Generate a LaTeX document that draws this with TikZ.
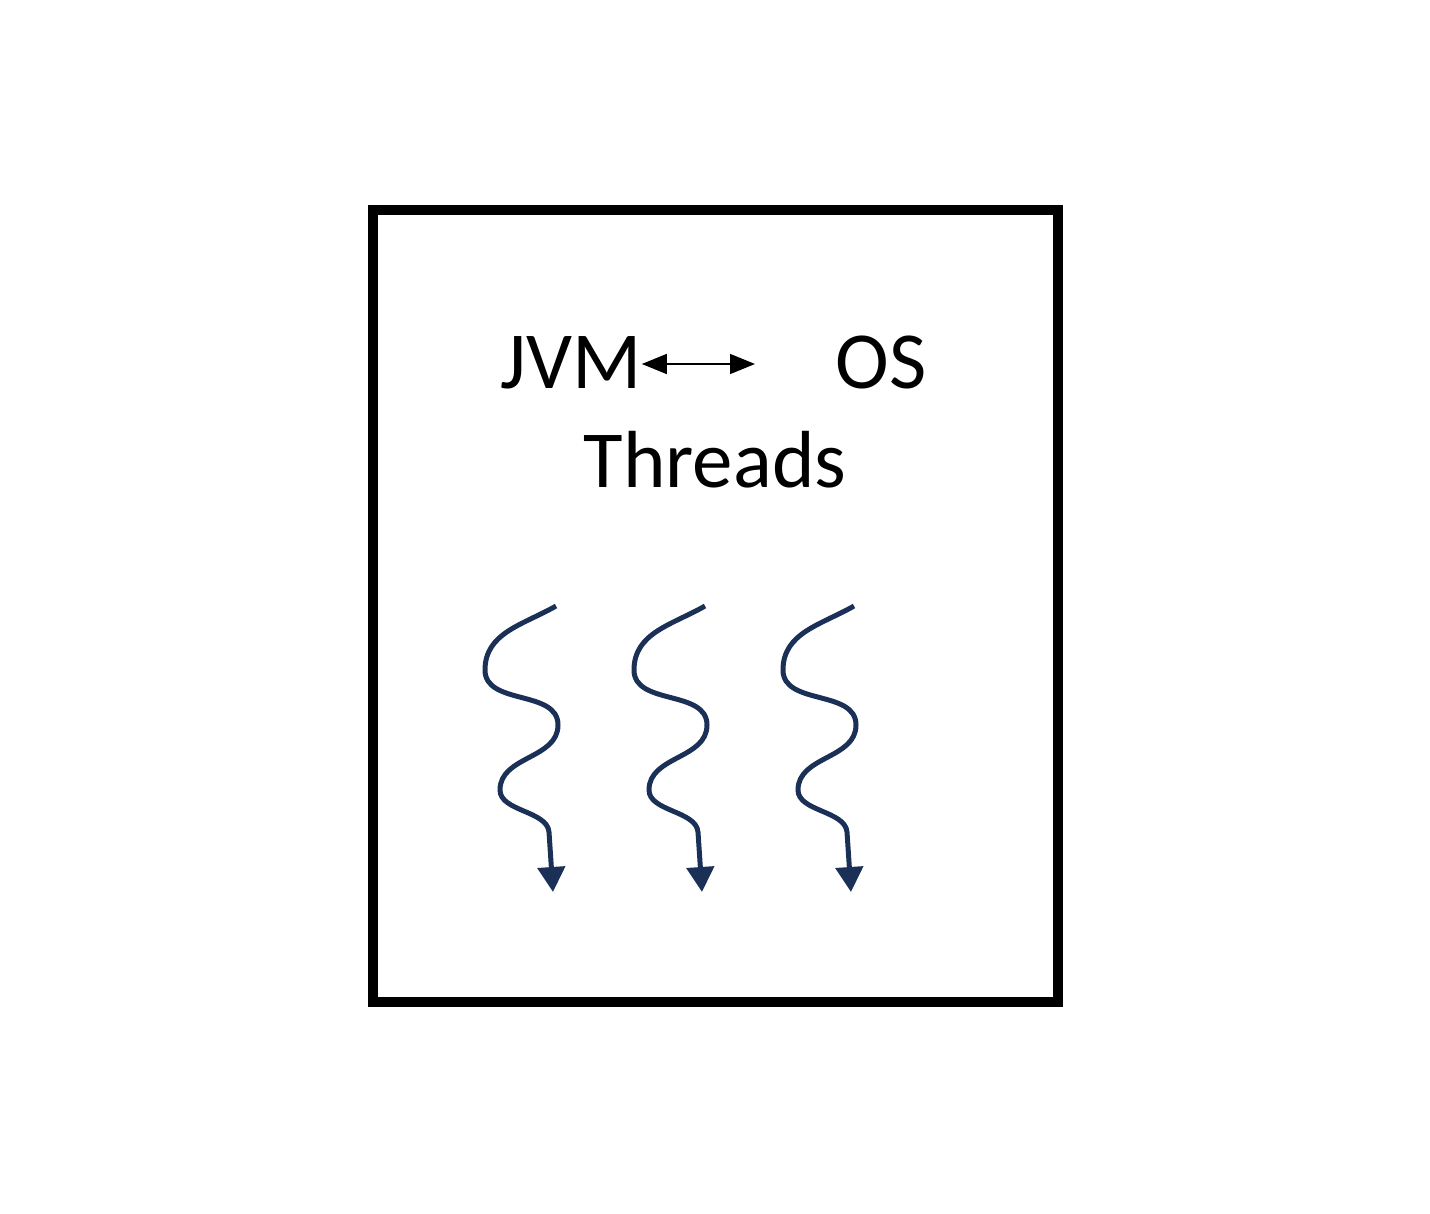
\documentclass[tikz,border=0pt]{standalone}
\usepackage{fontspec}
\setmainfont{Carlito}
\usetikzlibrary{arrows.meta}
\definecolor{threadblue}{HTML}{1B3056}
\tikzset{
  lbl/.style={inner sep=0pt, font=\fontsize{40.5}{48}\selectfont},
  frame/.style={draw, line width=5pt, inner sep=0pt},
  link/.style={line width=0.75pt, {Triangle[length=12.5pt,width=10pt]}-{Triangle[length=12.5pt,width=10pt]}},
  wave/.style={threadblue, line width=2.5pt, -{Triangle[length=12.5pt,width=13.5pt]}}
}
\begin{document}
\begin{tikzpicture}[x=0.5pt,y=0.5pt]
\useasboundingbox (0,0) rectangle (1430,-1214);
\node[frame, minimum width=342.5pt, minimum height=396pt] (box) at (715.5,-606) {};
\node[lbl, anchor=base west] (jvm) at (500,-388) {JVM};
\node[lbl, anchor=base west] (os) at (835,-388) {OS};
\node[lbl, anchor=base] (threads) at (715,-487) {Threads};
\coordinate (linkend) at (755,-364);
\draw[link] (jvm.east |- linkend) -- (linkend);
\foreach \i/\dx in {1/0,2/149,3/298}{
  \coordinate (s\i) at (556+\dx,-606);
  \coordinate (e\i) at (553+\dx,-892);
  \draw[wave] (s\i) to[out=210,in=90] ++(-71,-64)
     to[out=-90,in=90] ++(73,-55)
     to[out=-90,in=90] ++(-58,-65)
     to[out=-90,in=95,looseness=0.85] ++(49,-42)
     -- (e\i);
}
\end{tikzpicture}
\end{document}
